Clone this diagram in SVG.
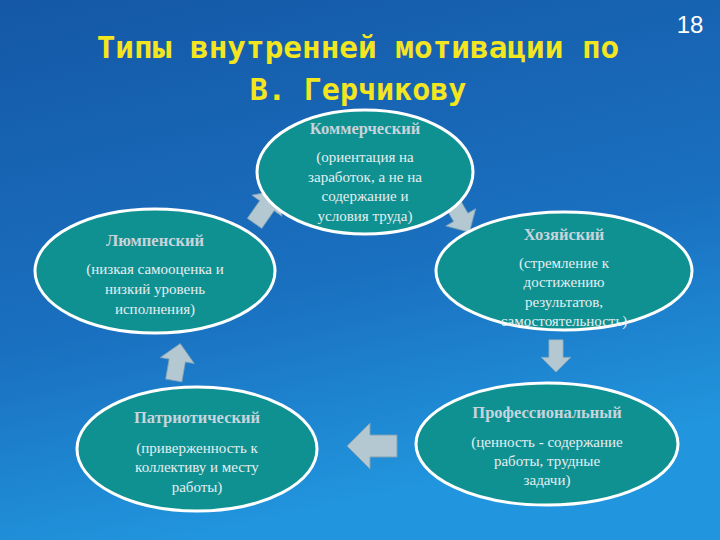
<svg xmlns="http://www.w3.org/2000/svg" width="720" height="540" viewBox="0 0 720 540">
<defs>
<linearGradient id="bg" x1="0" y1="0" x2="0.3" y2="1">
<stop offset="0" stop-color="#1458a6"/><stop offset="0.6" stop-color="#1a70c0"/><stop offset="1" stop-color="#2196de"/>
</linearGradient>
<path id="arr" d="M-25,-11 L2,-11 L2,-23 L25,0 L2,23 L2,11 L-25,11 Z"/>
</defs>
<style>
.n{fill:#0f9191;stroke:#fff;stroke-width:3}
.h{font-family:"Liberation Serif",serif;font-weight:bold;font-size:16.5px;fill:#c8d4dc;text-anchor:middle}
.t{font-family:"Liberation Serif",serif;font-size:15px;fill:#e6eef2;text-anchor:middle}
.a{fill:#b4c8d2;stroke:#7fa0b4;stroke-width:1}
</style>
<rect width="720" height="540" fill="url(#bg)"/>
<text x="358" y="58" font-family="DejaVu Sans Mono,monospace" font-weight="bold" font-size="31" fill="#f4e61e" text-anchor="middle">Типы внутренней мотивации по</text>
<text x="358" y="100" font-family="DejaVu Sans Mono,monospace" font-weight="bold" font-size="30" fill="#f4e61e" text-anchor="middle">В. Герчикову</text>
<text x="690" y="33" font-family="Liberation Sans,sans-serif" font-size="24" fill="#fff" text-anchor="middle">18</text>
<g id="connectors">
<use href="#arr" class="a" transform="translate(266,207) rotate(-55) scale(0.8)"/>
<use href="#arr" class="a" transform="translate(460,216) rotate(60) scale(0.75)"/>
<use href="#arr" class="a" transform="translate(556,356) rotate(90) scale(0.65)"/>
<use href="#arr" class="a" transform="translate(372,446) rotate(180) scale(1)"/>
<use href="#arr" class="a" transform="translate(177,362) rotate(-80) scale(0.75)"/>
</g>
<g id="commercial" xml:space="preserve"><ellipse class="n" cx="365" cy="172" rx="108" ry="62"/>
<text class="h" x="365" y="134">Коммерческий</text>
<text class="t" x="365" y="162">(ориентация на</text><text class="t" x="365" y="182">заработок, а не  на</text><text class="t" x="365" y="201">содержание  и</text><text class="t" x="365" y="221">условия  труда)</text></g>
<g id="lumpen" xml:space="preserve"><ellipse class="n" cx="155" cy="271" rx="120" ry="62"/>
<text class="h" x="155" y="246">Люмпенский</text>
<text class="t" x="155" y="274">(низкая самооценка и</text><text class="t" x="155" y="294">низкий  уровень</text><text class="t" x="155" y="314">исполнения)</text></g>
<g id="khoz"><ellipse class="n" cx="564" cy="271" rx="128" ry="59"/>
<text class="h" x="564" y="240">Хозяйский</text>
<text class="t" x="564" y="268">(стремление к</text><text class="t" x="564" y="287">достижению</text><text class="t" x="564" y="307">результатов,</text><text class="t" x="564" y="326">самостоятельность)</text></g>
<g id="patriot"><ellipse class="n" cx="197" cy="449" rx="120" ry="62"/>
<text class="h" x="197" y="423">Патриотический</text>
<text class="t" x="197" y="453">(приверженность к</text><text class="t" x="197" y="472">коллективу и месту</text><text class="t" x="197" y="492">работы)</text></g>
<g id="prof"><ellipse class="n" cx="547" cy="444" rx="131" ry="61"/>
<text class="h" x="547" y="418">Профессиональный</text>
<text class="t" x="547" y="447">(ценность - содержание</text><text class="t" x="547" y="466">работы, трудные</text><text class="t" x="547" y="485">задачи)</text></g>
</svg>
